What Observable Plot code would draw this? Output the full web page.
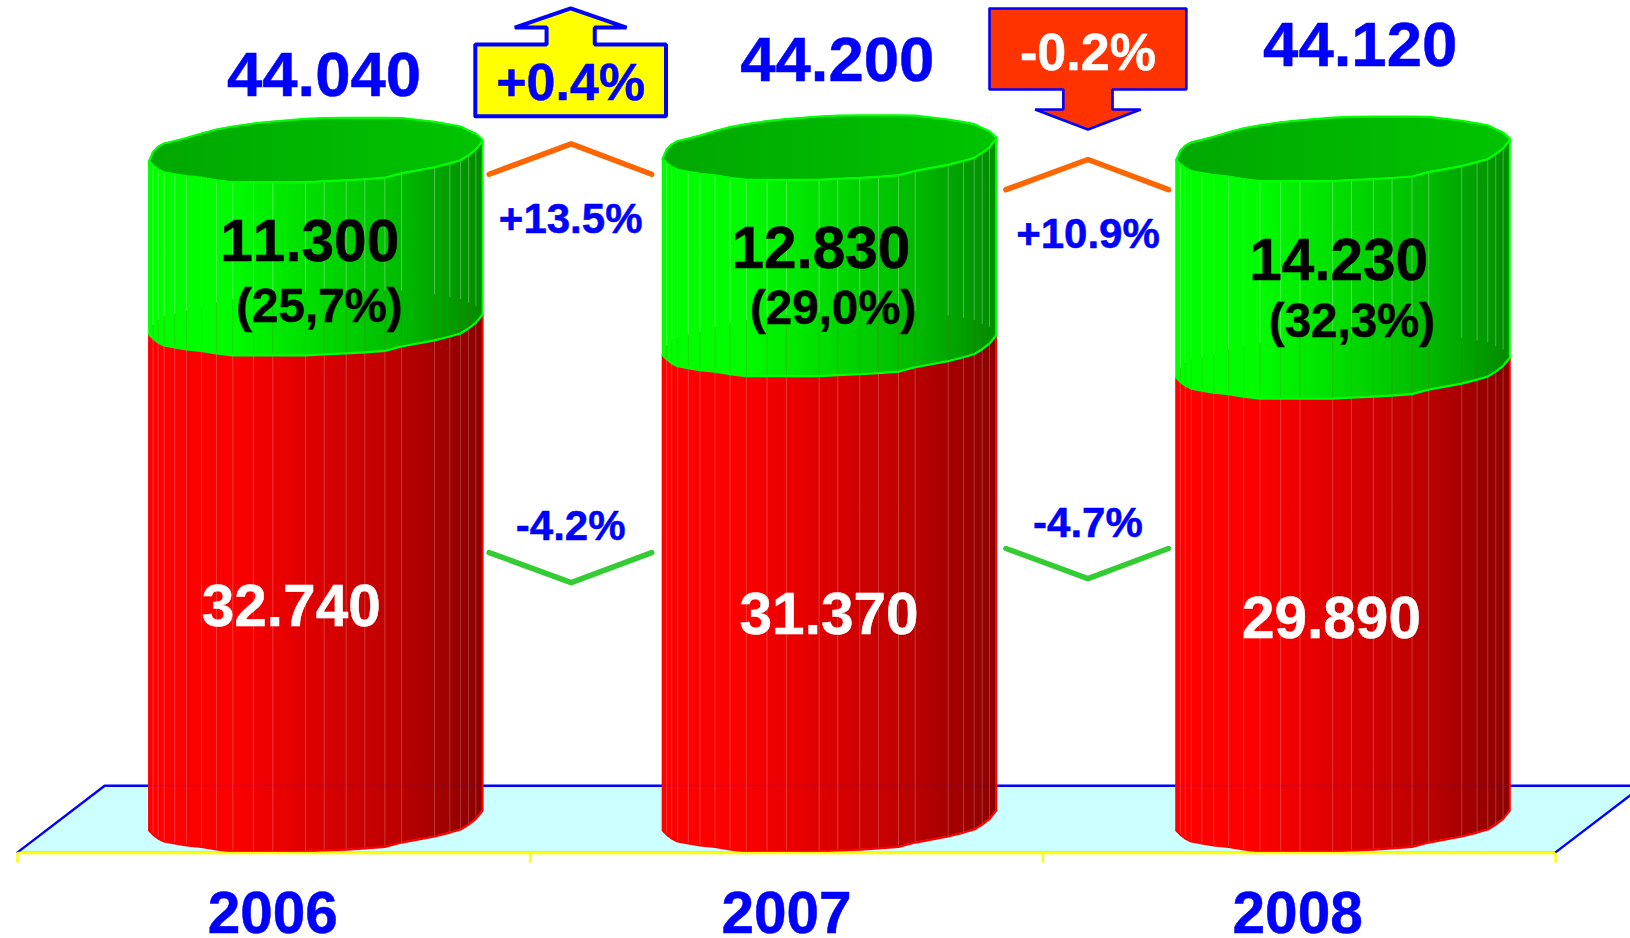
<!DOCTYPE html>
<html><head><meta charset="utf-8">
<script src="https://cdn.jsdelivr.net/npm/d3@7"></script>
<script src="https://cdn.jsdelivr.net/npm/@observablehq/plot@0.6"></script>
<style>html,body{margin:0;padding:0;background:#fff;overflow:hidden}svg{display:block}svg text{font-kerning:none}</style>
</head><body><div id="chart"></div>
<script>
// values
const years = ["2006", "2007", "2008"];
const redValues = [32740, 31370, 29890];
const greenValues = [11300, 12830, 14230];
const totalLabels = ["44.040", "44.200", "44.120"];
const redLabels = ["32.740", "31.370", "29.890"];
const greenLabels = ["11.300", "12.830", "14.230"];
const shareLabels = ["(25,7%)", "(29,0%)", "(32,3%)"];
const greenChanges = ["+13.5%", "+10.9%"];
const redChanges = ["-4.2%", "-4.7%"];
const totalChanges = ["+0.4%", "-0.2%"];

// cylinder shape, in chart units
const barLeft = [0.2567, 1.2585, 2.2603];
const barWidth = 0.6505;
const capLift = 130;
const stripEdges = [0,.012,.027,.045,.077,.112,.157,.202,.251,.313,.371,.469,.525,.591,.647,.707,.757,.856,.902,.934,.958,.980,1];
const rimFront = [1390,1120,860,660,530,400,300,130,0,0,0,0,70,130,200,300,590,990,1250,1450,1780,2150,2700];
const rimBack = [1390,2000,2340,2560,2720,2920,3220,3480,3680,3880,4010,4180,4240,4250,4250,4250,4240,3980,3810,3680,3420,3200,2800];

// annotation layout, in chart units
const totalX = [.598, 1.599, 2.619], totalY = [49860, 50880, 51850];
const greenX = [.570, 1.567, 2.577], greenY = [39000, 38520, 37700];
const shareX = [.589, 1.591, 2.603], shareY = [34940, 34820, 33930];
const redX = [.534, 1.583, 2.563], redY = [14860, 14370, 14100];
const changeX = [1.079, 2.088];
const greenChangeY = [40790, 39830], redChangeY = [20560, 20760], totalChangeY = [49630, 51610];
const chevronUp = [[.920, 44700, 46700, 1.080, 1.237], [1.928, 43680, 45670, 2.088, 2.245]];
const chevronDown = [[.920, 19730, 17750, 1.080, 1.237], [1.928, 20000, 18010, 2.088, 2.245]];

const rows = [];
years.forEach((year, b) => stripEdges.forEach((u, i) => {
  const x = barLeft[b] + u * barWidth;
  const red = redValues[b], top = red + greenValues[b] + capLift;
  rows.push({b, i, x,
    y0: rimFront[i],
    y1: red + rimFront[i],
    y1b: red + rimBack[i],
    y2: top + rimFront[i],
    y2b: top + rimBack[i]});
}));
const inner = rows.filter(r => r.i > 0 && r.i < stripEdges.length - 1);
const edge = rows.filter(r => r.i === 0 || r.i === stripEdges.length - 1);

const upArrow = (c) => [[c-.186,48530],[c-.186,53260],[c-.047,53260],[c-.047,54380],[c-.109,54380],[c,55640],[c+.109,54380],[c+.047,54380],[c+.047,53260],[c+.186,53260],[c+.186,48530],[c-.186,48530]];
const downArrow = (c) => [[c-.192,55640],[c-.192,50290],[c-.048,50290],[c-.048,48970],[c-.103,48970],[c,47650],[c+.103,48970],[c+.048,48970],[c+.048,50290],[c+.192,50290],[c+.192,55640],[c-.192,55640]];

const font = {fontFamily: "Liberation Sans, Arial, sans-serif", fontWeight: "bold", lineAnchor: "bottom", textAnchor: "middle", strokeWidth: .5};
const label = (texts, xs, ys, fill, fontSize) =>
  Plot.text(texts.map((t, i) => ({t, x: xs[i], y: ys[i]})), {x: "x", y: "y", text: "t", fill, stroke: fill, fontSize, ...font});

const gradient = (id, stops) => `<linearGradient id="${id}" x1="0" x2="1" y1="0" y2="0">` +
  stops.map(([o, c]) => `<stop offset="${o}" stop-color="${c}"/>`).join("") + `</linearGradient>`;
const defs = () => {
  const g = d3.create("svg:g");
  g.html("<defs>" +
    gradient("redSide", [[0,"#ff0000"],[.25,"#fc0000"],[.5,"#dc0000"],[.75,"#bc0000"],[1,"#8c0000"]]) +
    gradient("greenSide", [[0,"#00ff00"],[.25,"#00fc00"],[.5,"#00dc00"],[.75,"#00bc00"],[1,"#008c00"]]) +
    gradient("greenCap", [[0,"#00a800"],[1,"#00c400"]]) + "</defs>");
  return g.node();
};

const chart = Plot.plot({
  width: 1630, height: 938,
  marginTop: 0, marginRight: 0, marginBottom: 0, marginLeft: 0,
  x: {domain: [0, 3], range: [17, 1555], axis: null},
  y: {domain: [0, 56166], range: [851, 0], axis: null},
  style: {background: "#fff", overflow: "hidden"},
  marks: [
    defs,
    // floor
    Plot.areaX([{y: -60, x1: 0, x2: 3}, {y: 4340, x1: .17, x2: 3.17}], {y: "y", x1: "x1", x2: "x2", fill: "#ccffff"}),
    Plot.line([[0,-60],[.17,4340],[3.17,4340],[3,-60]], {x: d => d[0], y: d => d[1], stroke: "#0000ff", strokeWidth: 2.4, strokeLinejoin: "miter"}),
    // red bodies
    Plot.areaY(rows, {x: "x", y1: "y0", y2: "y1", z: "b", fill: "url(#redSide)"}),
    Plot.ruleX(inner, {x: "x", y1: "y0", y2: "y1", stroke: "#ffffff", strokeOpacity: .22, strokeWidth: 1}),
    Plot.ruleY([4340], {x1: .17, x2: 3.17, stroke: "#0000ff", strokeOpacity: .1, strokeWidth: 2}),
    // green bodies
    Plot.areaY(rows, {x: "x", y1: "y1", y2: "y2", z: "b", fill: "url(#greenSide)"}),
    Plot.ruleX(inner, {x: "x", y1: "y1b", y2: "y2", stroke: "#ffffff", strokeOpacity: .3, strokeWidth: 1}),
    Plot.ruleX(inner, {x: "x", y1: "y1", y2: "y1b", stroke: "#a04000", strokeOpacity: .2, strokeWidth: 1}),
    // caps
    Plot.areaY(rows, {x: "x", y1: "y2", y2: "y2b", z: "b", fill: "url(#greenCap)"}),
    // outlines
    Plot.line(rows, {x: "x", y: "y0", z: "b", stroke: "#ff0000", strokeWidth: 2.2}),
    Plot.ruleX(edge, {x: "x", y1: "y0", y2: "y1", stroke: "#ff0000", strokeWidth: 2}),
    Plot.ruleX(edge, {x: "x", y1: "y1", y2: "y2", stroke: "#00ff00", strokeWidth: 2}),
    Plot.line(rows, {x: "x", y: "y1", z: "b", stroke: "#00ff00", strokeWidth: 2.2}),
    Plot.line(rows, {x: "x", y: "y2", z: "b", stroke: "#00ff00", strokeWidth: 2.2}),
    Plot.line(rows, {x: "x", y: "y2b", z: "b", stroke: "#00ff00", strokeWidth: 2.2}),
    // x axis
    Plot.ruleY([-50], {x1: 0, x2: 3, stroke: "#999966", strokeWidth: 1}),
    Plot.ruleY([-110], {x1: 0, x2: 3, stroke: "#ffff00", strokeWidth: 2.4}),
    Plot.ruleX([0, 1, 2, 3], {y1: -110, y2: -770, stroke: "#ffff00", strokeWidth: 2.4}),
    label(years, [.498, 1.5, 2.497], [-5380, -5380, -5380], "#0000ff", 58.5),
    // chevrons
    ...chevronUp.map(([a, lo, hi, m, z]) => Plot.line([[a,lo],[m,hi],[z,lo]], {x: d => d[0], y: d => d[1], stroke: "#ff6600", strokeWidth: 5.5, strokeLinejoin: "miter"})),
    ...chevronDown.map(([a, lo, hi, m, z]) => Plot.line([[a,lo],[m,hi],[z,lo]], {x: d => d[0], y: d => d[1], stroke: "#33cc33", strokeWidth: 5.5, strokeLinejoin: "miter"})),
    // total change arrows
    Plot.line(upArrow(changeX[0]), {x: d => d[0], y: d => d[1], fill: "#ffff00", stroke: "#0000ff", strokeWidth: 4, strokeLinejoin: "miter"}),
    Plot.line(downArrow(changeX[1]), {x: d => d[0], y: d => d[1], fill: "#ff3300", stroke: "#0000ff", strokeWidth: 2.6, strokeLinejoin: "miter"}),
    label([totalChanges[0]], [changeX[0]], [totalChangeY[0]], "#0000ff", 52),
    label([totalChanges[1]], [changeX[1]], [totalChangeY[1]], "#ffffff", 52),
    // labels
    label(totalLabels, totalX, totalY, "#0000ff", 63.5),
    label(greenLabels, greenX, greenY, "#000000", 58.5),
    label(shareLabels, shareX, shareY, "#000000", 47.5),
    label(redLabels, redX, redY, "#ffffff", 58.5),
    label(greenChanges, changeX, greenChangeY, "#0000ff", 42),
    label(redChanges, changeX, redChangeY, "#0000ff", 42)
  ]
});
document.getElementById("chart").append(chart);
</script>
</body></html>
